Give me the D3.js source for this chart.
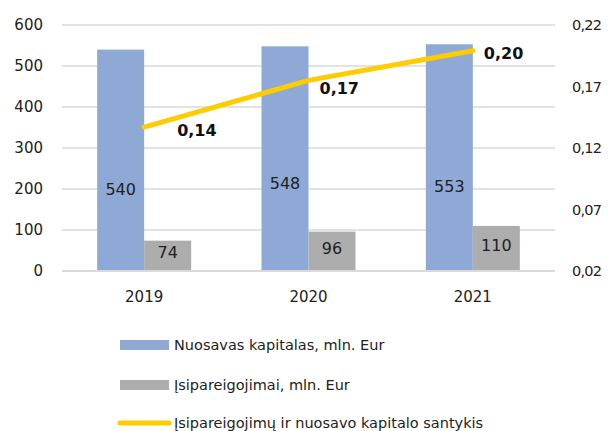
<!DOCTYPE html>
<html><head><meta charset="utf-8">
<script src="https://cdn.jsdelivr.net/npm/d3@7"></script>
<style>body{margin:0;background:#fff}svg{display:block}text{font-family:"DejaVu Sans",sans-serif}</style>
</head><body><svg id="c" width="611" height="431"></svg>
<script>
const categories = ["2019","2020","2021"];
const equity = [540,548,553];
const liabilities = [74,96,110];
const ratio = [0.137,0.175,0.199];
const ratioLabels = ["0,14","0,17","0,20"];
const leftTicks = [0,100,200,300,400,500,600];
const rightTicks = [0.02,0.07,0.12,0.17,0.22];
const rightTickLabels = ["0,02","0,07","0,12","0,17","0,22"];
const seriesNames = ["Nuosavas kapitalas, mln. Eur","Įsipareigojimai, mln. Eur","Įsipareigojimų ir nuosavo kapitalo santykis"];
const colors = {equity:"#8EA9D6", liab:"#ADADAD", line:"#FFCC00", grid:"#D9D9D9", text:"#222"};
const FONT = "DejaVu Sans";

const svg = d3.select("#c");
const L=62, R=555, T=25, B=271;
const x = d3.scaleBand().domain(categories).range([L,R]);
const y = d3.scaleLinear().domain([0,600]).range([B,T]);
const y2 = d3.scaleLinear().domain([0.02,0.22]).range([B,T]);
const bw = 47;

// grid
svg.append("g").selectAll("line").data(leftTicks).join("line")
  .attr("x1",L).attr("x2",R).attr("y1",d=>y(d)).attr("y2",d=>y(d))
  .attr("stroke",colors.grid).attr("stroke-width",1.5);

// left axis
const ga = svg.append("g").attr("transform",`translate(${L},0)`)
  .call(d3.axisLeft(y).tickValues(leftTicks).tickSize(0).tickPadding(19).tickFormat(d3.format("d")));
ga.select(".domain").remove();
ga.selectAll("text").attr("font-size",15).attr("fill",colors.text).attr("font-family",FONT);

// right axis
const gr = svg.append("g").attr("transform",`translate(${R},0)`)
  .call(d3.axisRight(y2).tickValues(rightTicks).tickSize(0).tickPadding(17).tickFormat((d,i)=>rightTickLabels[i]));
gr.select(".domain").remove();
gr.selectAll("text").attr("font-size",14.5).attr("letter-spacing","-0.8px").attr("fill",colors.text).attr("font-family",FONT);

// bars
const cx = c => x(c)+x.bandwidth()/2;
svg.append("g").selectAll("rect").data(categories).join("rect")
  .attr("x",c=>cx(c)-bw).attr("width",bw)
  .attr("y",(c,i)=>y(equity[i])).attr("height",(c,i)=>B-y(equity[i]))
  .attr("fill",colors.equity);
svg.append("g").selectAll("rect").data(categories).join("rect")
  .attr("x",c=>cx(c)).attr("width",bw)
  .attr("y",(c,i)=>y(liabilities[i])).attr("height",(c,i)=>B-y(liabilities[i]))
  .attr("fill",colors.liab);

// bottom axis
svg.append("line").attr("x1",L).attr("x2",R).attr("y1",B).attr("y2",B).attr("stroke",colors.grid).attr("stroke-width",2);
const gb = svg.append("g").attr("transform",`translate(0,${B})`)
  .call(d3.axisBottom(x).tickSize(0).tickPadding(20));
gb.select(".domain").remove();
gb.selectAll("text").attr("font-size",15).attr("fill",colors.text).attr("font-family",FONT);

// bar labels
svg.append("g").selectAll("text").data(categories).join("text")
  .attr("x",c=>cx(c)-bw/2).attr("y",(c,i)=>y(200)+( i===1?-6:(i===2?-3:0)))
  .attr("dy","0.35em").attr("text-anchor","middle").attr("font-size",16).attr("fill",colors.text)
  .text((c,i)=>equity[i]);
svg.append("g").selectAll("text").data(categories).join("text")
  .attr("x",c=>cx(c)+bw/2).attr("y",(c,i)=>(y(liabilities[i])+B)/2-3)
  .attr("dy","0.35em").attr("text-anchor","middle").attr("font-size",16).attr("fill",colors.text)
  .text((c,i)=>liabilities[i]);

// line
const line = d3.line().x((d,i)=>cx(categories[i])).y(d=>y2(d));
svg.append("path").datum(ratio).attr("d",line).attr("fill","none")
  .attr("stroke",colors.line).attr("stroke-width",5).attr("stroke-linecap","round");
svg.append("g").selectAll("text").data(ratio).join("text")
  .attr("x",(d,i)=>cx(categories[i])+(i===0?33:11))
  .attr("y",(d,i)=>y2(d)+(i===1?8:3))
  .attr("dy","0.35em").attr("font-size",16).attr("font-weight","bold").attr("fill","#111")
  .text((d,i)=>ratioLabels[i]);

// legend
const lg = svg.append("g");
const ly = [345,385,423];
lg.append("rect").attr("x",120).attr("y",ly[0]-5).attr("width",49).attr("height",10).attr("fill",colors.equity);
lg.append("rect").attr("x",120).attr("y",ly[1]-5).attr("width",49).attr("height",10).attr("fill",colors.liab);
lg.append("line").attr("x1",120).attr("x2",169).attr("y1",ly[2]).attr("y2",ly[2])
  .attr("stroke",colors.line).attr("stroke-width",5).attr("stroke-linecap","round");
lg.selectAll("text").data(seriesNames).join("text")
  .attr("x",174).attr("y",(d,i)=>ly[i]).attr("dy","0.35em")
  .attr("font-size",14.5).attr("fill",colors.text).text(d=>d);
</script></body></html>
